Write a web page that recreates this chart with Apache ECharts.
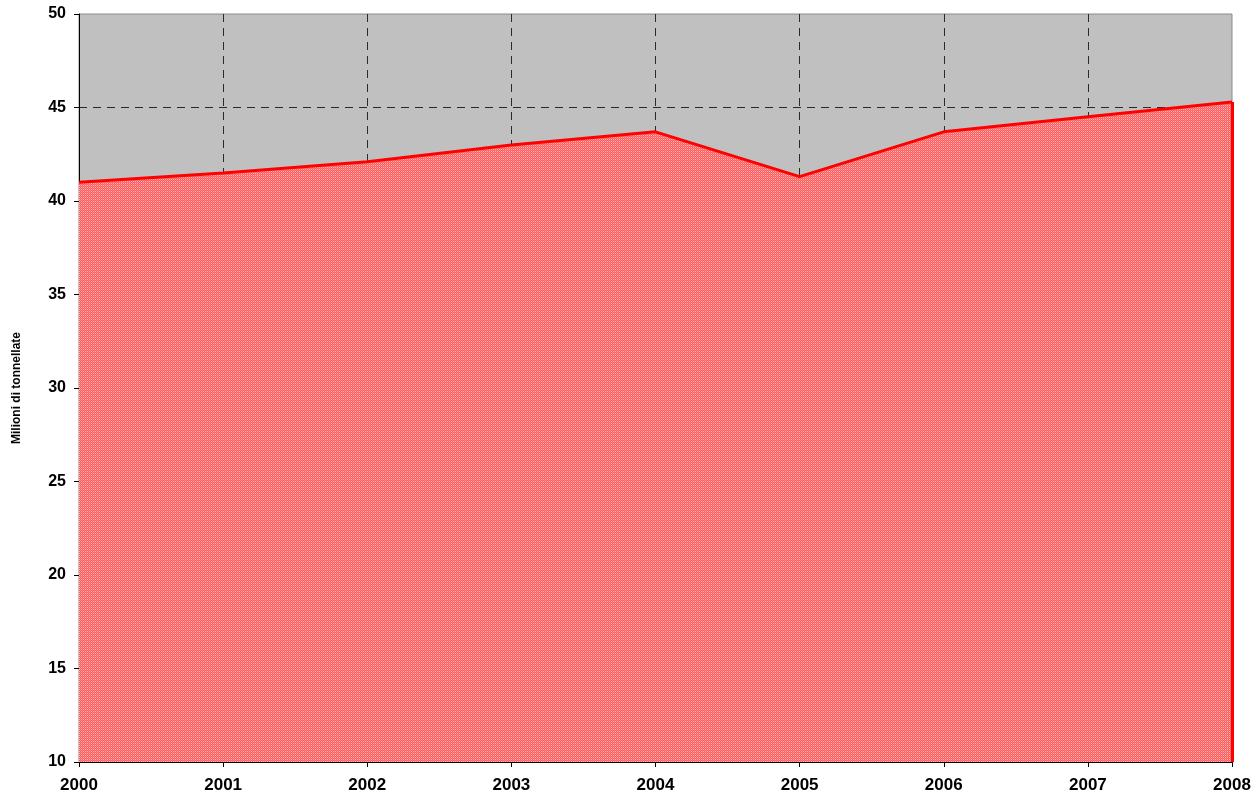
<!DOCTYPE html>
<html><head><meta charset="utf-8">
<script src="https://cdn.jsdelivr.net/npm/echarts@6/dist/echarts.min.js"></script>
<style>html,body{margin:0;padding:0;background:#fff}#c{width:1259px;height:800px}</style>
</head><body><div id="c"></div>
<script>
const years = ['2000','2001','2002','2003','2004','2005','2006','2007','2008'];
const values = [41.0, 41.5, 42.1, 43.0, 43.7, 41.3, 43.7, 44.5, 45.3];
const yAxisName = 'Milioni di tonnellate';

const pc = document.createElement('canvas');
pc.width = 2; pc.height = 2;
const g = pc.getContext('2d');
g.fillStyle = '#ff5a5a'; g.fillRect(0,0,2,2);
g.fillStyle = '#ffb8b8'; g.fillRect(1,1,1,1);
g.fillStyle = '#ff8080'; g.fillRect(0,0,1,1);

const chart = echarts.init(document.getElementById('c'), null, {renderer:'canvas'});
const ff = 'Liberation Sans, Arial, sans-serif';
chart.setOption({
  animation:false,
  grid:{left:79, right:27, top:14, bottom:38, show:true, backgroundColor:'#c0c0c0', borderColor:'#8a8a8a', borderWidth:1,
    containLabel:false, outerBoundsMode:'none'},
  xAxis:{type:'category', data:years, boundaryGap:false,
    axisLine:{lineStyle:{color:'#000', width:1}},
    axisTick:{show:true, length:5, lineStyle:{color:'#000'}},
    axisLabel:{margin:15, fontFamily:ff, fontWeight:'bold', fontSize:17, color:'#000'},
    splitLine:{show:true, showMinLine:false, showMaxLine:false, lineStyle:{color:'#2a2a2a', type:[8,6], width:1}}},
  yAxis:{type:'value', min:10, max:50, interval:5,
    name:yAxisName, nameLocation:'middle', nameGap:56, nameRotate:90,
    nameTextStyle:{fontFamily:ff, fontWeight:'bold', fontSize:12, color:'#000'},
    axisLine:{show:true, lineStyle:{color:'#000', width:1}},
    axisTick:{show:true, length:5, lineStyle:{color:'#000'}},
    axisLabel:{margin:13, fontFamily:ff, fontWeight:'bold', fontSize:16, color:'#000'},
    splitLine:{show:true, showMinLine:false, showMaxLine:false, lineStyle:{color:'#2a2a2a', type:[8,6], width:1}}},
  series:[{type:'line', data:values, symbol:'none',
    lineStyle:{color:'#ff0000', width:3},
    areaStyle:{color:{image:pc, repeat:'repeat'}, opacity:1},
    markLine:{symbol:'none', silent:true, label:{show:false},
      lineStyle:{color:'#ff0000', width:3, type:'solid'},
      data:[[{coord:[years[years.length-1], 10]}, {coord:[years[years.length-1], values[values.length-1]]}]]}
  }]
});
</script></body></html>
